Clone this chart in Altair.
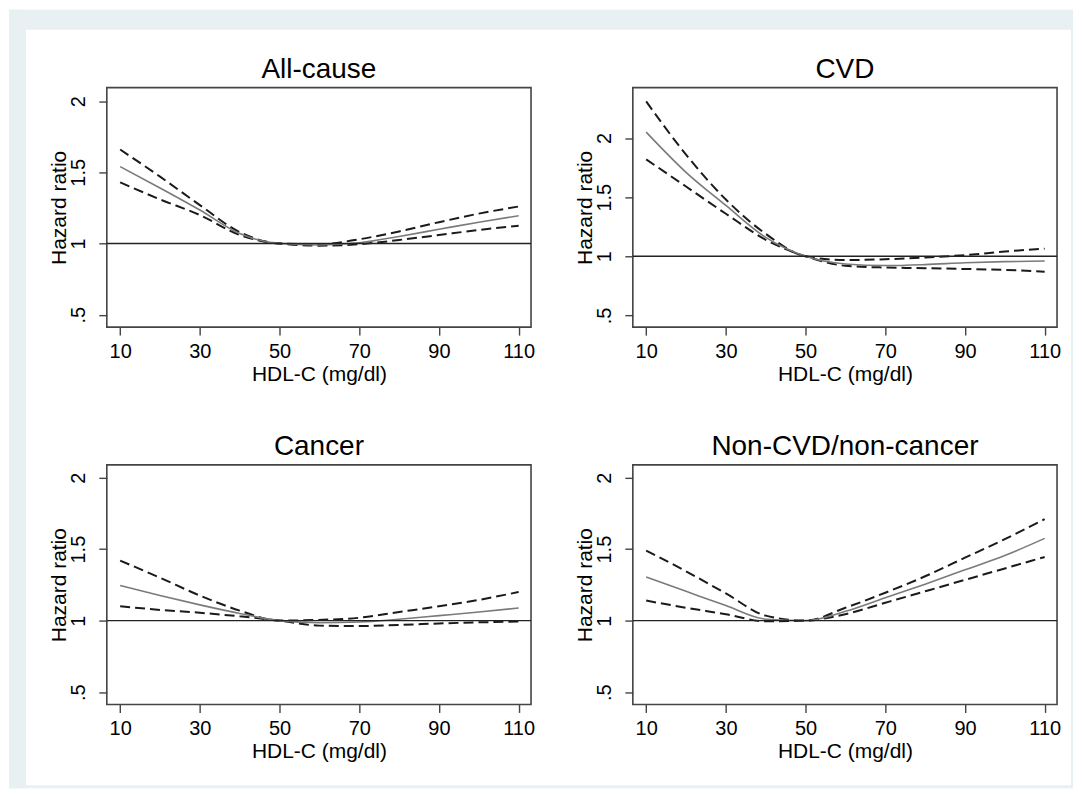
import altair as alt
import pandas as pd

# ---------------- data ----------------
HDL = [10, 20, 30, 40, 50, 60, 70, 80, 90, 100, 110]
TITLES = ["All-cause", "CVD", "Cancer", "Non-CVD/non-cancer"]

ALL_EST = [1.54, 1.39, 1.235, 1.07, 1.0, 0.99, 1.005, 1.05, 1.10, 1.15, 1.195]
ALL_LO = [1.43, 1.31, 1.20, 1.06, 1.0, 0.985, 0.995, 1.025, 1.06, 1.095, 1.125]
ALL_HI = [1.66, 1.47, 1.27, 1.08, 1.0, 0.995, 1.03, 1.085, 1.15, 1.21, 1.26]

CVD_EST = [2.05, 1.71, 1.43, 1.16, 1.0, 0.935, 0.922, 0.93, 0.945, 0.955, 0.96]
CVD_LO = [1.82, 1.59, 1.36, 1.14, 1.0, 0.92, 0.905, 0.90, 0.893, 0.885, 0.87]
CVD_HI = [2.31, 1.86, 1.48, 1.19, 1.0, 0.968, 0.975, 0.99, 1.01, 1.04, 1.065]

CAN_EST = [1.245, 1.175, 1.11, 1.05, 1.0, 0.985, 0.99, 1.01, 1.035, 1.06, 1.088]
CAN_LO = [1.10, 1.075, 1.055, 1.03, 1.0, 0.965, 0.962, 0.97, 0.98, 0.988, 0.993]
CAN_HI = [1.42, 1.30, 1.175, 1.07, 1.0, 1.005, 1.02, 1.06, 1.10, 1.145, 1.20]

NON_EST = [1.305, 1.205, 1.105, 1.01, 1.0, 1.065, 1.16, 1.255, 1.355, 1.455, 1.575]
NON_LO = [1.14, 1.09, 1.045, 0.995, 1.0, 1.045, 1.125, 1.205, 1.285, 1.365, 1.445]
NON_HI = [1.49, 1.345, 1.19, 1.035, 1.0, 1.09, 1.195, 1.31, 1.44, 1.57, 1.71]

X_DOMAIN = [6.65, 113.1]
Y_DOMAINS = [[0.413, 2.095], [0.401, 2.427], [0.414, 2.089], [0.414, 2.089]]
X_TICKS = [10, 30, 50, 70, 90, 110]
Y_TICKS = [0.5, 1, 1.5, 2]
REF_HR = [1]

FONT = "Liberation Sans, Arial, Helvetica, sans-serif"
W, H = 425, 240


def panel(title, est, lo, hi, ydom, border=False):
    df = pd.DataFrame({
        "x": HDL * 3,
        "hr": est + lo + hi,
        "band": ["est"] * len(HDL) + ["lo"] * len(HDL) + ["hi"] * len(HDL),
    })
    xenc = alt.X(
        "x:Q",
        scale=alt.Scale(domain=X_DOMAIN, nice=False, zero=False),
        axis=alt.Axis(
            values=X_TICKS, format="d", title="HDL-C (mg/dl)",
            tickSize=8, labelPadding=22, labelBaseline="alphabetic",
            titleBaseline="alphabetic", titleX=W / 2, titleY=53.5,
            titleAlign="center",
        ),
    )
    yenc = alt.Y(
        "hr:Q",
        scale=alt.Scale(domain=ydom, nice=False, zero=False),
        axis=alt.Axis(
            values=Y_TICKS, title="Hazard ratio",
            labelExpr="datum.value == 0.5 ? '.5' : format(datum.value, '~g')",
            labelAngle=270, labelAlign="center", labelBaseline="alphabetic",
            tickSize=8, labelPadding=14,
            titleAngle=270, titleBaseline="alphabetic", titleAlign="center",
            titleX=-41, titleY=H / 2,
        ),
    )
    base = alt.Chart(df)
    ref = alt.Chart(pd.DataFrame({"hr": REF_HR})).mark_rule(
        color="#222222", strokeWidth=1.4
    ).encode(y=alt.Y("hr:Q"))
    bounds = base.transform_filter("datum.band != 'est'").mark_line(
        color="#1a1a1a", strokeWidth=2, strokeDash=[10, 5], interpolate="monotone"
    ).encode(x=xenc, y=yenc, detail="band:N")
    estl = base.transform_filter("datum.band == 'est'").mark_line(
        color="#7a7a7a", strokeWidth=1.6, interpolate="monotone"
    ).encode(x=xenc, y=yenc)
    head = alt.Chart(pd.DataFrame({"t": [title]})).mark_text(
        font=FONT, fontSize=28, color="black", align="center", baseline="alphabetic"
    ).encode(x=alt.value(W / 2), y=alt.value(-10), text="t:N")
    layers = []
    if border:
        one = alt.Chart(pd.DataFrame({"k": [0]}))
        fill = "#e8f0f3"
        strips = [
            (-98, -81, -78, 702),
            (-98, 968, -78, -58),
            (966, 968, -78, 702),
            (-98, 968, 699, 702),
        ]
        for (a, b, c, d) in strips:
            layers.append(
                one.mark_rect(color=fill).encode(
                    x=alt.value(a), x2=alt.value(b), y=alt.value(c), y2=alt.value(d)
                )
            )
    layers += [bounds, estl, ref, head]
    return alt.layer(*layers).properties(width=W, height=H)


p1 = panel(TITLES[0], ALL_EST, ALL_LO, ALL_HI, Y_DOMAINS[0], border=True)
p2 = panel(TITLES[1], CVD_EST, CVD_LO, CVD_HI, Y_DOMAINS[1])
p3 = panel(TITLES[2], CAN_EST, CAN_LO, CAN_HI, Y_DOMAINS[2])
p4 = panel(TITLES[3], NON_EST, NON_LO, NON_HI, Y_DOMAINS[3])

chart = alt.concat(
    p1, p2, p3, p4, columns=2, bounds="flush",
    spacing=alt.RowColnumber(row=138, column=102),
).properties(
    padding=0, background="white"
).configure_view(
    stroke="#444444", strokeWidth=1.6
).configure_axis(
    labelFont=FONT, titleFont=FONT, labelFontSize=20, titleFontSize=21,
    labelColor="black", titleColor="black", titleFontWeight="normal",
    tickColor="#444444", tickWidth=1.4, domain=False, grid=False,
    labelFlush=False, labelOverlap=False, zindex=1,
)

chart.save("out.html", embed_options={"renderer": "svg", "actions": False})
